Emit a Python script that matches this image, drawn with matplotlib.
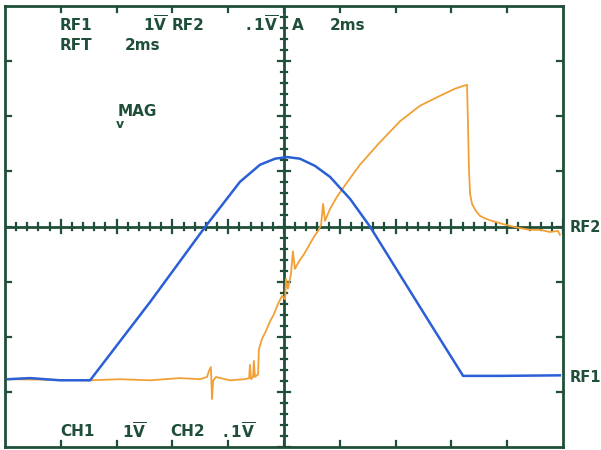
import matplotlib
matplotlib.use("Agg")
import matplotlib.pyplot as plt
import numpy as np

# ---- data (time in ms, CH1 in V at 1 V/div, CH2 in V at 0.1 V/div) ----
ch1_t = [0.11, 0.90, 1.97, 3.05, 5.20, 7.17, 8.42, 9.14, 9.68, 10.11, 10.57,
         11.11, 11.65, 12.37, 13.08, 14.16, 15.23, 16.42, 17.74, 19.89]
ch1_v = [-2.77, -2.75, -2.79, -2.79, -1.37, -0.01, 0.81, 1.12, 1.23, 1.26, 1.23,
         1.10, 0.90, 0.50, 0.00, -0.88, -1.75, -2.71, -2.71, -2.70]

ch2_t = [0.11, 3.05, 4.12, 5.20, 6.27, 6.99, 7.24, 7.31, 7.38, 7.42, 7.46, 7.56,
         8.06, 8.60, 8.75, 8.78, 8.82, 8.89, 8.92, 8.96, 9.07, 9.10, 9.21, 9.35,
         9.50, 9.64, 9.78, 9.93, 10.04, 10.07, 10.14, 10.25, 10.32, 10.39, 10.54,
         10.72, 10.90, 11.07, 11.22, 11.33, 11.40, 11.47, 11.65, 11.90, 12.19,
         12.72, 13.44, 14.16, 14.87, 15.59, 16.13, 16.42, 16.56, 16.59, 16.63,
         16.67, 16.74, 16.88, 17.03, 17.24, 17.46, 17.74, 18.10, 18.46, 18.82,
         19.18, 19.53, 19.82, 19.89]
ch2_v = [-0.277, -0.279, -0.277, -0.279, -0.275, -0.277, -0.273, -0.262, -0.255,
         -0.313, -0.280, -0.273, -0.279, -0.277, -0.275, -0.251, -0.277, -0.273,
         -0.244, -0.273, -0.268, -0.223, -0.204, -0.190, -0.172, -0.159, -0.141,
         -0.126, -0.132, -0.095, -0.113, -0.086, -0.045, -0.077, -0.063, -0.050,
         -0.034, -0.019, -0.008, 0.003, 0.041, 0.010, 0.032, 0.054, 0.075, 0.112,
         0.153, 0.191, 0.219, 0.237, 0.250, 0.255, 0.257, 0.195, 0.104, 0.059,
         0.041, 0.028, 0.019, 0.014, 0.010, 0.006, 0.001, -0.003, -0.006, -0.006,
         -0.010, -0.008, -0.015]

ch1_scale = 1.0   # V/div
ch2_scale = 0.1   # V/div
time_per_div = 2.0  # ms/div

GREEN = "#1f4f38"
BLUE = "#2a5fd6"
ORANGE = "#f2a035"

W, H = 601, 450
fig = plt.figure(figsize=(W / 100, H / 100), dpi=100)
ax = fig.add_axes([5 / W, 3 / H, 558 / W, 441 / H])
ax.set_xlim(0, 10 * time_per_div)
ax.set_ylim(-4, 4)
ax.set_xticks([])
ax.set_yticks([])
for s in ax.spines.values():
    s.set_color(GREEN)
    s.set_linewidth(2.0)

# graticule: centre cross with fine ticks, border ticks
ax.axhline(0, color=GREEN, lw=2.0, zorder=1)
ax.axvline(5 * time_per_div, color=GREEN, lw=2.0, zorder=1)
for k in range(0, 51):
    x = k * 0.2 * time_per_div
    h = 0.12 if k % 5 == 0 else 0.06
    ax.plot([x, x], [-h, h], color=GREEN, lw=1.6, zorder=1)
for k in range(0, 41):
    y = -4 + k * 0.2
    h = 0.22 if k % 5 == 0 else 0.11
    ax.plot([10 - h, 10 + h], [y, y], color=GREEN, lw=1.6, zorder=1)
for k in range(1, 10):
    x = k * time_per_div
    ax.plot([x, x], [4, 3.9], color=GREEN, lw=1.6)
    ax.plot([x, x], [-4, -3.9], color=GREEN, lw=1.6)
for k in range(1, 8):
    y = -4 + k
    ax.plot([0, 0.2], [y, y], color=GREEN, lw=1.6)
    ax.plot([20, 19.8], [y, y], color=GREEN, lw=1.6)

# traces
ax.plot(ch2_t, np.array(ch2_v) / ch2_scale, color=ORANGE, lw=1.3, zorder=3)
ax.plot(ch1_t, np.array(ch1_v) / ch1_scale, color=BLUE, lw=1.8, zorder=4)

def put(x, y, s, ha="left", size=11):
    fig.text(x / W, 1 - y / H, s, color=GREEN, fontsize=size,
             family="DejaVu Sans", weight="bold", ha=ha, va="center")

ov = r"$\mathbf{1}\overline{\mathbf{V}}$"
ov2 = r"$\mathbf{.1}\overline{\mathbf{V}}$"
put(60, 25, "RF1")
put(143, 25, ov)
put(172, 25, "RF2")
put(245, 25, ov2)
put(292, 25, "A")
put(330, 25, "2ms")
put(60, 46, "RFT")
put(125, 46, "2ms")
put(118, 111, "MAG")
put(60, 432, "CH1")
put(122, 432, ov)
put(170, 432, "CH2")
put(222, 432, ov2)
put(570, 227, "RF2", size=10.5)
put(570, 378, "RF1", size=10.5)
fig.text(120 / W, 1 - 124 / H, "v", color=GREEN, fontsize=9,
         family="DejaVu Sans", ha="center", va="center", weight="bold")

fig.savefig("out.png", dpi=100, facecolor="white")
